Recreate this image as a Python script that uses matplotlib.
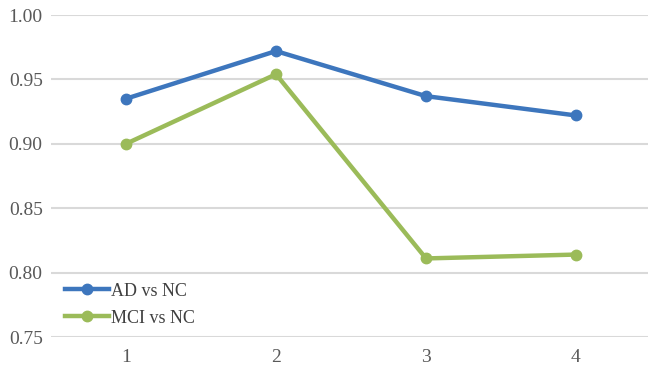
import matplotlib.pyplot as plt

# データ
x_labels = ['1', '2', '3', '4']
ad_vs_nc = [0.935, 0.972, 0.937, 0.922]
mci_vs_nc = [0.900, 0.954, 0.811, 0.814]

plt.rcParams['font.family'] = ['Liberation Serif', 'DejaVu Serif']

fig = plt.figure(figsize=(6.48, 3.73), dpi=100)
ax = fig.add_axes([51 / 648, 36 / 373, 600 / 648, 322 / 373])

x = list(range(1, len(x_labels) + 1))
ax.plot(x, ad_vs_nc, '-o', color='#3d76bd', lw=3.2, ms=7.5, label='AD vs NC', zorder=3)
ax.plot(x, mci_vs_nc, '-o', color='#9bbb59', lw=3.2, ms=7.5, label='MCI vs NC', zorder=3)

ax.set_xlim(0.5, 4.5)
ax.set_ylim(0.75, 1.00)
ax.set_yticks([0.75, 0.80, 0.85, 0.90, 0.95, 1.00])
ax.set_yticklabels([f'{v:.2f}' for v in ax.get_yticks()])
ax.set_xticks(x)
ax.set_xticklabels(x_labels)
ax.tick_params(length=0, labelsize=14, colors='#595959')
ax.tick_params(axis='y', pad=6)
ax.tick_params(axis='x', pad=9)
ax.grid(axis='y', color='#d9d9d9', lw=1.5)
ax.set_axisbelow(True)
for s in ax.spines.values():
    s.set_visible(False)

# 凡例は左下
ax.legend(loc='lower left', bbox_to_anchor=(-0.003, -0.018), frameon=False,
          fontsize=13, handlelength=2.4, handletextpad=0.1, labelspacing=0.55,
          labelcolor='#404040')

fig.savefig('out.png', dpi=100)
